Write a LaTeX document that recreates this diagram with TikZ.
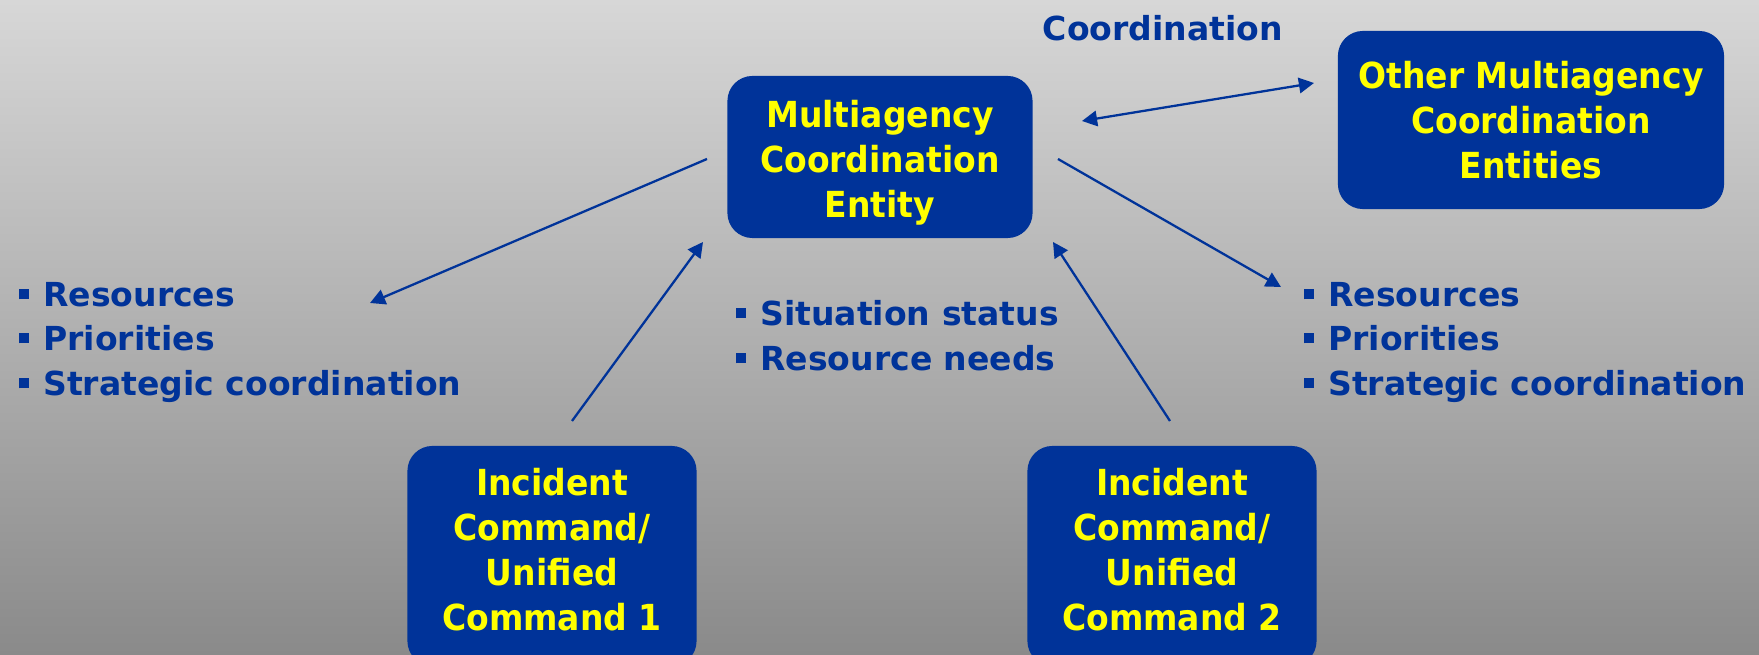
\documentclass[tikz,border=0pt]{standalone}
\usepackage{fontspec}
\setmainfont{DejaVu Sans}
\newfontfamily\boxfam{DejaVu Sans}[FakeStretch=0.92]
\usetikzlibrary{arrows.meta}
\definecolor{boxblue}{HTML}{003399}
\definecolor{boxyellow}{HTML}{FFFF00}
\definecolor{textblue}{HTML}{003399}
\definecolor{bgtop}{HTML}{D7D7D7}
\definecolor{bgbottom}{HTML}{8A8A8A}
\newcommand{\sqbullet}{\rule[2.2pt]{2.9pt}{2.9pt}\hspace{4.1pt}}
\begin{document}
\begin{tikzpicture}[x=0.01cm, y=-0.01cm,
    agency/.style={fill=boxblue, rounded corners=0.25cm, text=boxyellow, align=center, inner sep=0pt,
        font=\boxfam\bfseries\fontsize{10.2}{12.8}\selectfont},
    item/.style={anchor=base west, inner sep=0pt, text=textblue, font=\bfseries\fontsize{9.4}{12.5}\selectfont},
    link/.style={draw=textblue, line width=0.65pt, -{Triangle[length=4.3pt, width=4.4pt]}}]
        \useasboundingbox (0, 0) rectangle (1759, 655);
        \shade[top color=bgtop, bottom color=bgbottom] (0, 0) rectangle (1759, 655);
        % boxes
        \node[agency, minimum width=3.05cm, minimum height=1.62cm] (mace) at (880, 157) {\rule{0pt}{10.9pt}Multiagency\\Coordination\\Entity};
        \node[agency, minimum width=3.86cm, minimum height=1.78cm] (other) at (1531, 120) {Other Multiagency\\Coordination\\Entities};
        \node[agency, minimum width=2.89cm, minimum height=2.2cm, text depth=3.8pt] (ic1) at (552, 556) {Incident\\Command/\\Unified\\Command 1};
        \node[agency, minimum width=2.89cm, minimum height=2.2cm, text depth=3.8pt] (ic2) at (1172, 556) {Incident\\Command/\\Unified\\Command 2};
        \node[text=textblue, font=\bfseries\fontsize{9.4}{12.5}\selectfont] (coord) at (1163, 28) {Coordination};
        % left list
        \node[item] (lres) at (18, 307) {\sqbullet Resources};
        \node[item] (lpri) at (18, 351) {\sqbullet Priorities};
        \node[item] (lstr) at (18, 396) {\sqbullet Strategic coordination};
        % middle list
        \node[item] (msit) at (735, 326) {\sqbullet Situation status};
        \node[item] (mres) at (735, 371) {\sqbullet Resource needs};
        % right list
        \node[item] (rres) at (1303, 307) {\sqbullet Resources};
        \node[item] (rpri) at (1303, 351) {\sqbullet Priorities};
        \node[item] (rstr) at (1303, 396) {\sqbullet Strategic coordination};
        % arrow ends
        \coordinate (a1s) at (707, 159);
        \coordinate (a1e) at (370, 303);
        \coordinate (a2s) at (572, 421);
        \coordinate (a2e) at (703, 242);
        \coordinate (a3s) at (1082, 121);
        \coordinate (a3e) at (1314, 83);
        \coordinate (a4s) at (1058, 159);
        \coordinate (a4e) at (1281, 287);
        \coordinate (a5s) at (1170, 421);
        \coordinate (a5e) at (1053, 242);
        \draw[link] (a1s) -- (a1e);
        \draw[link] (a2s) -- (a2e);
        \draw[link, {Triangle[length=4.3pt, width=4.4pt]}-{Triangle[length=4.3pt, width=4.4pt]}] (a3s) -- (a3e);
        \draw[link] (a4s) -- (a4e);
        \draw[link] (a5s) -- (a5e);
\end{tikzpicture}
\end{document}
